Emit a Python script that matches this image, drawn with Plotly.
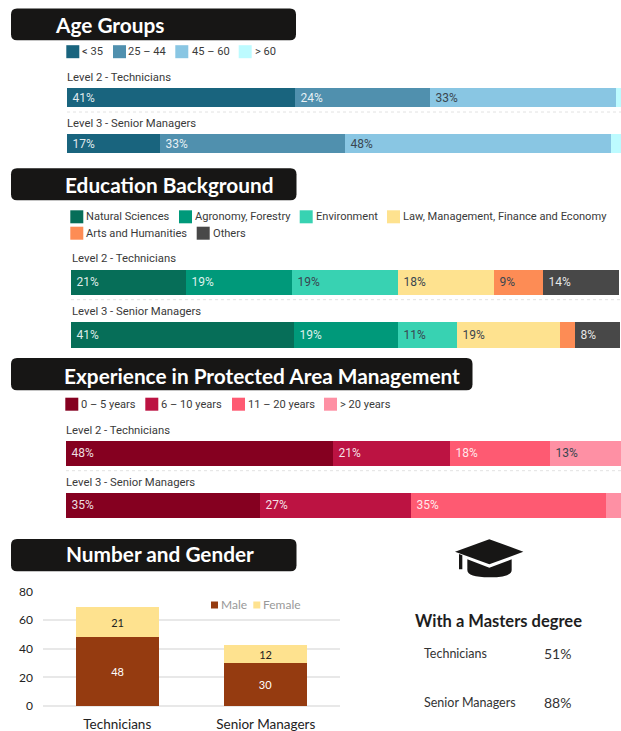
import plotly.graph_objects as go

W, H = 621, 731

LEVELS = ["Level 2 - Technicians", "Level 3 - Senior Managers"]

AGE_NAMES = ["< 35", "25 – 44", "45 – 60", "> 60"]
AGE_TECH = [41.0, 24.3, 33.4, 1.3]
AGE_SENIOR = [16.7, 33.3, 47.8, 2.2]
AGE_COLORS = ["#19647E", "#5090AE", "#89C6E3", "#BDFBFF"]

EDU_NAMES = ["Natural Sciences", "Agronomy, Forestry", "Environment",
             "Law, Management, Finance and Economy", "Arts and Humanities", "Others"]
EDU_TECH = [20.9, 19.4, 19.2, 17.6, 8.9, 13.9]
EDU_SENIOR = [40.6, 19.0, 10.7, 18.8, 2.7, 8.2]
EDU_COLORS = ["#066E58", "#00997A", "#38D2B2", "#FEE28F", "#FD8C55", "#484848"]

EXP_NAMES = ["0 – 5 years", "6 – 10 years", "11 – 20 years", "> 20 years"]
EXP_TECH = [48.0, 21.0, 17.9, 13.1]
EXP_SENIOR = [34.9, 27.1, 35.0, 3.0]
EXP_COLORS = ["#850020", "#BC1342", "#FE5A72", "#FE90A4"]

GENDER_CATS = ["Technicians", "Senior Managers"]
GENDER_MALE = [48, 30]
GENDER_FEMALE = [21, 12]
GENDER_NAMES = ["Male", "Female"]
GENDER_COLORS = ["#953B10", "#FEE28F"]

MASTERS_LABELS = ["Technicians", "Senior Managers"]
MASTERS_VALUES = ["51%", "88%"]

HEADERS = ["Age Groups", "Education Background",
           "Experience in Protected Area Management", "Number and Gender"]

ROBOTO = "Roboto"
LATO = "Lato"
INK = "#3A3A3A"


def px(x):
    return x / W


def py(y):
    return 1 - y / H


def is_light(c):
    r, g, b = int(c[1:3], 16), int(c[3:5], 16), int(c[5:7], 16)
    return (0.299 * r + 0.587 * g + 0.114 * b) > 150


fig = go.Figure()
shapes, annotations = [], []


def label(x, y, text, size, color=INK, family=ROBOTO, anchor="left", bold=False):
    annotations.append(dict(
        xref="paper", yref="paper", x=px(x), y=py(y), text=f"<b>{text}</b>" if bold else text,
        showarrow=False, xanchor=anchor, yanchor="middle",
        font=dict(family=family, size=size, color=color), borderpad=0, borderwidth=0))


def rect(x0, y0, x1, y1, color):
    shapes.append(dict(type="rect", xref="paper", yref="paper",
                       x0=px(x0), x1=px(x1), y0=py(y0), y1=py(y1),
                       fillcolor=color, line=dict(width=0), layer="above"))


def header(x0, y0, x1, y1, text, text_x, text_y):
    r = 6
    p = (f"M {px(x0 + r)} {py(y0)} L {px(x1 - r)} {py(y0)} "
         f"Q {px(x1)} {py(y0)} {px(x1)} {py(y0 + r)} L {px(x1)} {py(y1 - r)} "
         f"Q {px(x1)} {py(y1)} {px(x1 - r)} {py(y1)} L {px(x0 + r)} {py(y1)} "
         f"Q {px(x0)} {py(y1)} {px(x0)} {py(y1 - r)} L {px(x0)} {py(y0 + r)} "
         f"Q {px(x0)} {py(y0)} {px(x0 + r)} {py(y0)} Z")
    shapes.append(dict(type="path", xref="paper", yref="paper", path=p,
                       fillcolor="#171615", line=dict(width=0), layer="below"))
    label(text_x, text_y, text, 20.8, "#FFFFFF", LATO, bold=True)


def panel(idx, names, tech, senior, colors, x0, x_unit, y_c0, y_c1, bar_h):
    """Stacked 100% bar panel on its own pair of axes."""
    spacing = y_c1 - y_c0
    top, bottom = y_c0 - spacing / 2, y_c1 + spacing / 2
    x_range_max = (W - x0) / x_unit
    suffix = str(idx)
    fig.update_layout(**{
        f"xaxis{suffix}": dict(domain=[px(x0), 1], range=[0, x_range_max], visible=False,
                               anchor=f"y{suffix}", fixedrange=True),
        f"yaxis{suffix}": dict(domain=[py(bottom), py(top)], range=[1.5, -0.5], type="category",
                               categoryorder="array", categoryarray=LEVELS, visible=False,
                               anchor=f"x{suffix}", fixedrange=True),
    })
    for i, name in enumerate(names):
        vals = [tech[i], senior[i]]
        base = "#3A4650" if is_light(colors[i]) else "rgba(255,255,255,0.88)"
        fig.add_trace(go.Bar(
            x=vals, y=LEVELS, name=name, orientation="h", width=bar_h / spacing,
            xaxis=f"x{suffix}", yaxis=f"y{suffix}", showlegend=False,
            marker=dict(color=colors[i], line=dict(width=0)),
            text=[f"\u2009{v:.0f}%" if v >= 5 else "" for v in vals],
            textposition="inside", insidetextanchor="start", textangle=0,
            constraintext="none", cliponaxis=True,
            insidetextfont=dict(family=ROBOTO, size=12, color=base),
            hoverinfo="name+x"))


def level_labels(x, y0, y1, sep_y, sep_x0):
    label(x, y0, LEVELS[0], 11.3)
    label(x, y1, LEVELS[1], 11.3)
    shapes.append(dict(type="line", xref="paper", yref="paper", x0=px(sep_x0), x1=1,
                       y0=py(sep_y), y1=py(sep_y), line=dict(color="#E2E2E2", width=1, dash="dot")))


def legend_row(names, colors, swatch_xs, text_xs, y0, size=13, font=11.1):
    for n, c, sx, tx in zip(names, colors, swatch_xs, text_xs):
        rect(sx, y0, sx + size, y0 + size, c)
        label(tx, y0 + size / 2, n, font)


# Headers
header(11, 8.5, 296, 40.3, HEADERS[0], 55, 24)
header(11, 168.3, 296.5, 200.3, HEADERS[1], 65, 185)
header(11, 358, 472.5, 390.3, HEADERS[2], 64, 375.7)
header(11, 539, 296.5, 571.3, HEADERS[3], 66, 553.3)

# Age
legend_row(AGE_NAMES, AGE_COLORS, [66.3, 113, 175.3, 238.7], [82, 128, 191.7, 255], 45.2)
level_labels(67, 77.3, 123.7, 112, 67)
panel("", AGE_NAMES, AGE_TECH, AGE_SENIOR, AGE_COLORS, 67, 5.56, 97, 143, 19)

# Education
legend_row(EDU_NAMES[:4], EDU_COLORS[:4], [70.3, 179, 299.7, 387], [86.3, 195, 316, 403.3], 210.3)
legend_row(EDU_NAMES[4:], EDU_COLORS[4:], [70.3, 196.7], [86.3, 212.7], 226.7)
level_labels(71.5, 258, 311.3, 299.7, 71)
panel("2", EDU_NAMES, EDU_TECH, EDU_SENIOR, EDU_COLORS, 71, 5.49, 281.8, 334.4, 25.3)

# Experience
legend_row(EXP_NAMES, EXP_COLORS, [65.3, 145.3, 232, 324], [81.3, 161.3, 247.7, 340], 397.7)
level_labels(66.3, 430.3, 482.7, 470.7, 66)
panel("3", EXP_NAMES, EXP_TECH, EXP_SENIOR, EXP_COLORS, 66, 5.57, 452.8, 505.2, 25)

# Gender stacked columns
fig.update_layout(
    xaxis4=dict(domain=[px(43), px(340)], anchor="y4", type="category", showgrid=False,
                showline=False, ticks="", ticklabelstandoff=8, fixedrange=True,
                tickfont=dict(family=LATO, size=13.5, color="#222222")),
    yaxis4=dict(domain=[py(706), py(591.3)], anchor="x4", range=[0, 80], dtick=20,
                gridcolor="#E8E8E8", gridwidth=1.5, zeroline=True, zerolinecolor="#E8E8E8",
                zerolinewidth=1.5, showline=False, ticks="", ticklabelstandoff=9, fixedrange=True,
                tickfont=dict(family=LATO, size=12, color="#222222")),
)
for name, vals, color in zip(GENDER_NAMES, [GENDER_MALE, GENDER_FEMALE], GENDER_COLORS):
    fig.add_trace(go.Bar(
        x=GENDER_CATS, y=vals, name=name, width=0.56, xaxis="x4", yaxis="y4", showlegend=False,
        marker=dict(color=color, line=dict(width=0)),
        text=[str(v) for v in vals], textposition="inside", insidetextanchor="middle",
        textangle=0, constraintext="none",
        insidetextfont=dict(family=LATO, size=11,
                            color="#222222" if is_light(color) else "#FFFFFF")))

rect(211, 601.5, 218, 608.5, GENDER_COLORS[0])
label(221.3, 604.5, GENDER_NAMES[0], 12, "#999999", LATO)
rect(253.3, 601.5, 260.3, 608.5, GENDER_COLORS[1])
label(263.3, 604.5, GENDER_NAMES[1], 12, "#999999", LATO)

# Masters block
label(415, 621, "With a Masters degree", 16.5, "#1E1E1E", LATO, bold=True)
for lab, val, y in zip(MASTERS_LABELS, MASTERS_VALUES, [653.7, 702.7]):
    label(424.3, y, lab, 12.5, "#333333", LATO)
    label(543.5, y, val, 14, "#333333", LATO)


# Graduation cap icon
def cap(points):
    cmds = []
    for pt in points:
        if len(pt) == 2:
            cmds.append(f"{'M' if not cmds else 'L'} {px(380 + pt[0] / 3)} {py(530 + pt[1] / 3)}")
        else:
            cmds.append(f"Q {px(380 + pt[0] / 3)} {py(530 + pt[1] / 3)} "
                        f"{px(380 + pt[2] / 3)} {py(530 + pt[3] / 3)}")
    shapes.append(dict(type="path", xref="paper", yref="paper", path=" ".join(cmds) + " Z",
                       fillcolor="#171615", line=dict(width=0), layer="above"))


cap([(225, 65), (328, 28), (430, 65), (328, 103)])
cap([(262, 88), (328, 113), (395, 88), (395, 120), (395, 142, 328, 142), (262, 142, 262, 120)])
cap([(237, 72), (247, 76), (247, 118), (237, 118)])

fig.update_layout(
    width=W, height=H, margin=dict(l=0, r=0, t=0, b=0, pad=0, autoexpand=False), autosize=False,
    barmode="stack", bargap=0, paper_bgcolor="#FFFFFF", plot_bgcolor="#FFFFFF",
    shapes=shapes, annotations=annotations, showlegend=False,
    font=dict(family=ROBOTO),
)

fig.write_html("out.html", config=dict(displayModeBar=False),
               post_script="document.body.style.margin='0';document.body.style.overflow='hidden';")
